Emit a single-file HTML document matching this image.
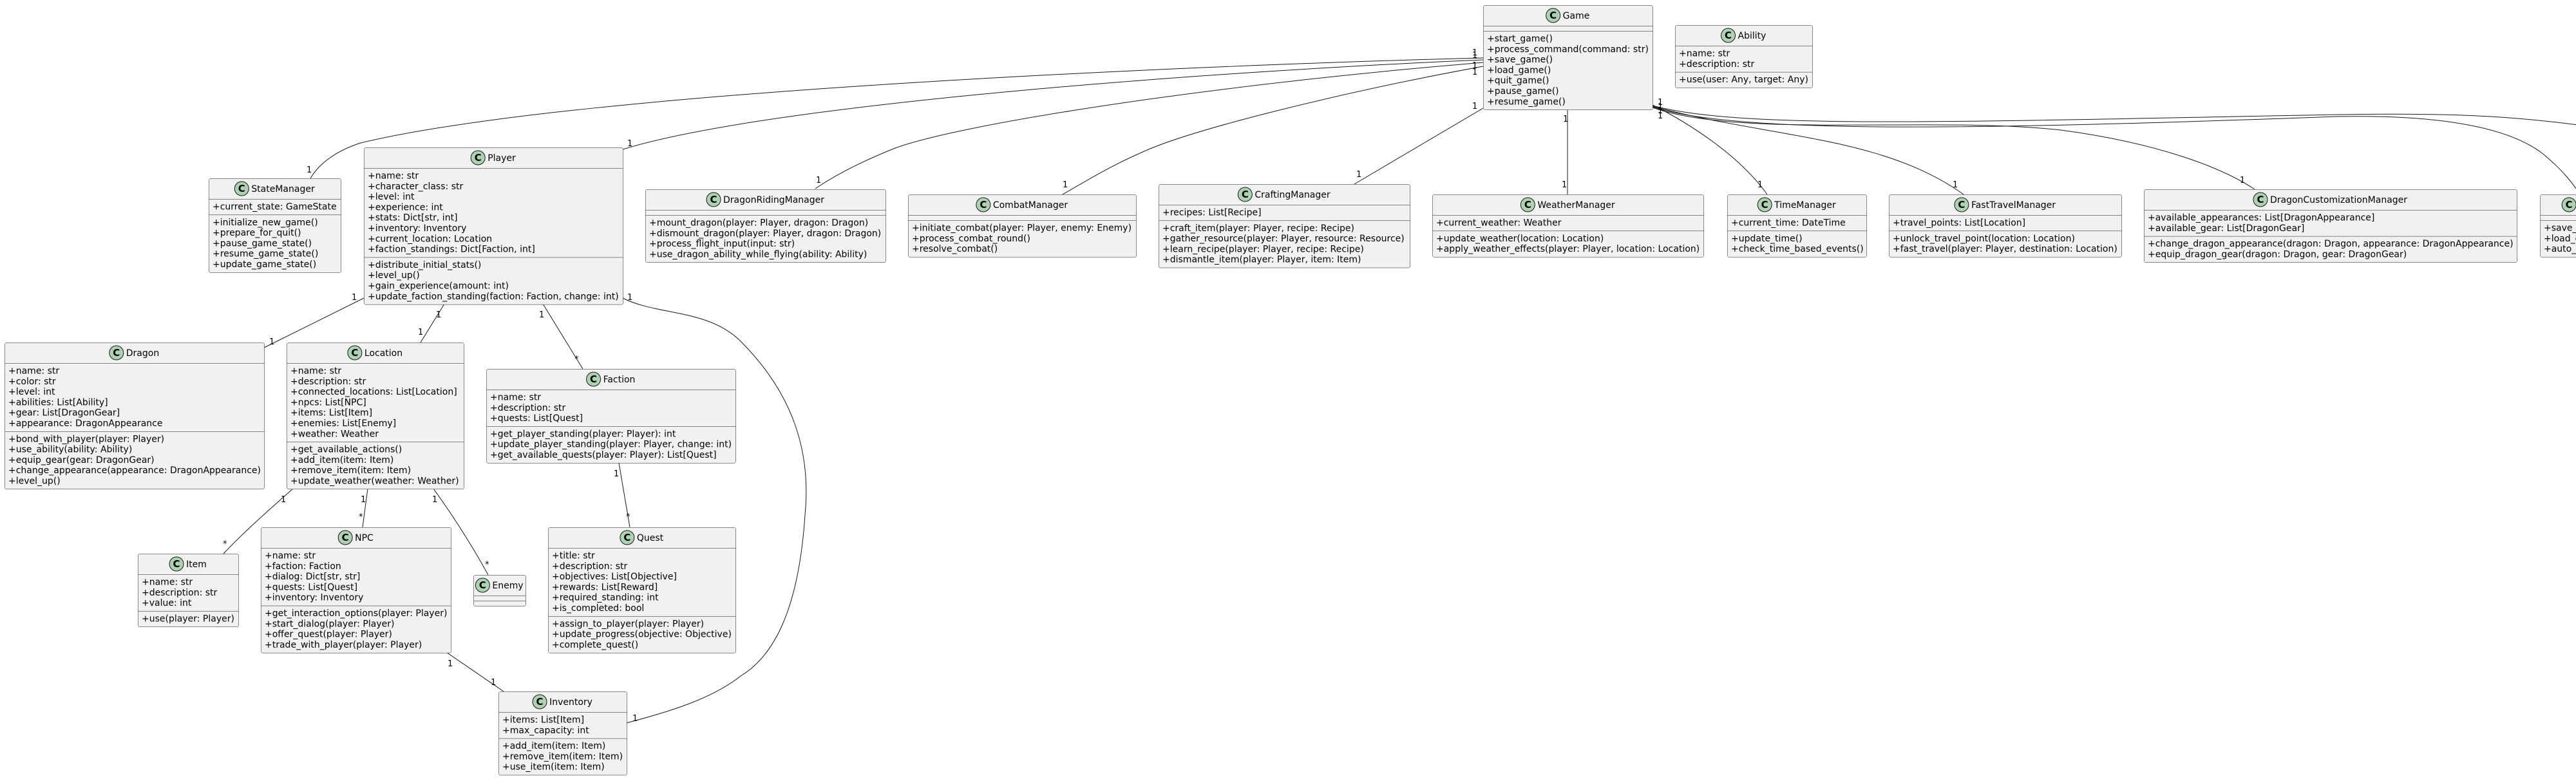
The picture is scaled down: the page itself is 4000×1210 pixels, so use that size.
<!DOCTYPE html>
<html><head><meta charset="utf-8">
<style>
html,body{margin:0;padding:0;background:#fff;}
svg{display:block;}
text{font-family:"DejaVu Sans","Liberation Sans",sans-serif;fill:#000;}
</style></head>
<body>
<svg id="s" xmlns="http://www.w3.org/2000/svg" width="4000" height="1210" viewBox="0 0 4000 1210">
<g fill="none" stroke="#181818" stroke-width="1">
<path d="M2303,90 C1900,100 900,140 560,222 C520,235 495,255 482,277"/>
<path d="M2303,93 C1900,110 1200,160 967,232"/>
<path d="M2303,97 C1900,130 1500,190 1390,230 C1340,250 1300,270 1266,293"/>
<path d="M2303,103 C2100,140 1850,200 1770,238 C1720,260 1680,285 1650,302"/>
<path d="M2303,168 L2103,286"/>
<path d="M2434,168 L2434,302"/>
<path d="M2566,163 C2620,190 2700,240 2744,302"/>
<path d="M2566,165 C2750,215 2920,210 3049,302"/>
<path d="M2566,167 C2700,215 3000,180 3200,202 C3350,222 3450,260 3501,294"/>
<path d="M2566,164 C2700,200 3000,190 3630,178 C3800,175 3900,180 4010,195"/>
<path d="M2566,166 C2700,210 3100,200 3630,181 C3800,178 3900,200 3950,240 C3980,265 3995,285 4005,300"/>
<path d="M565,463 L410,540"/>
<path d="M690,472 L653,532"/>
<path d="M843,472 L905,573"/>
<path d="M967,463 C1020,490 1100,480 1150,530 C1230,610 1260,700 1250,800 C1240,950 1200,1020 1150,1050 C1100,1090 1020,1110 973,1123"/>
<path d="M455,759 C420,790 380,825 347,860"/>
<path d="M571,759 L563,819"/>
<path d="M673,759 C710,810 740,860 758,893"/>
<path d="M961,719 L978,819"/>
<path d="M693,1013 L782,1074"/>
</g>
<g id="boxes"></g>
<g font-size="13" id="labels">
<text x="476" y="268">1</text>
<text x="974" y="227">1</text>
<text x="546" y="466">1</text>
<text x="418" y="535">1</text>
<text x="677" y="493">1</text>
<text x="649" y="520">1</text>
<text x="837" y="493">1</text>
<text x="892" y="562">*</text>
<text x="974" y="466">1</text>
<text x="982" y="1120">1</text>
<text x="436" y="780">1</text>
<text x="346" y="849">*</text>
<text x="560" y="780">1</text>
<text x="557" y="807">*</text>
<text x="671" y="780">1</text>
<text x="753" y="881">*</text>
<text x="953" y="740">1</text>
<text x="972" y="807">*</text>
<text x="695" y="1035">1</text>
<text x="762" y="1064">1</text>
<text x="1267" y="284">1</text>
<text x="1650" y="291">1</text>
<text x="2106" y="275">1</text>
<text x="2286" y="86">1</text>
<text x="2286" y="90">1</text>
<text x="2286" y="106">1</text>
<text x="2286" y="116">1</text>
<text x="2286" y="169">1</text>
<text x="2427" y="189">1</text>
<text x="2425" y="291">1</text>
<text x="2729" y="291">1</text>
<text x="3032" y="291">1</text>
<text x="3478" y="284">1</text>
<text x="2574" y="163">1</text>
<text x="2574" y="170">1</text>
<text x="2574" y="176">1</text>
<text x="2574" y="184">1</text>
</g>
</svg>
<script>
(function(){
var NS='http://www.w3.org/2000/svg';
var g=document.getElementById('boxes');
function el(t,a,p,txt){var e=document.createElementNS(NS,t);for(var k in a)e.setAttribute(k,a[k]);if(txt!==undefined)e.textContent=txt;(p||g).appendChild(e);return e;}
var C=[
['StateManager',324,277,205,['+current_state: GameState'],['+initialize_new_game()','+prepare_for_quit()','+pause_game_state()','+resume_game_state()','+update_game_state()']],
['Player',565,229,402,['+name: str','+character_class: str','+level: int','+experience: int','+stats: Dict[str, int]','+inventory: Inventory','+current_location: Location','+faction_standings: Dict[Faction, int]'],['+distribute_initial_stats()','+level_up()','+gain_experience(amount: int)','+update_faction_standing(faction: Faction, change: int)']],
['Dragon',7,532,403,['+name: str','+color: str','+level: int','+abilities: List[Ability]','+gear: List[DragonGear]','+appearance: DragonAppearance'],['+bond_with_player(player: Player)','+use_ability(ability: Ability)','+equip_gear(gear: DragonGear)','+change_appearance(appearance: DragonAppearance)','+level_up()']],
['Location',445,532,275,['+name: str','+description: str','+connected_locations: List[Location]','+npcs: List[NPC]','+items: List[Item]','+enemies: List[Enemy]','+weather: Weather'],['+get_available_actions()','+add_item(item: Item)','+remove_item(item: Item)','+update_weather(weather: Weather)']],
['Faction',755,573,387,['+name: str','+description: str','+quests: List[Quest]'],['+get_player_standing(player: Player): int','+update_player_standing(player: Player, change: int)','+get_available_quests(player: Player): List[Quest]']],
['Item',214,860,156,['+name: str','+description: str','+value: int'],['+use(player: Player)']],
['NPC',405,819,295,['+name: str','+faction: Faction','+dialog: Dict[str, str]','+quests: List[Quest]','+inventory: Inventory'],['+get_interaction_options(player: Player)','+start_dialog(player: Player)','+offer_quest(player: Player)','+trade_with_player(player: Player)']],
['Enemy',735,893,81,[],[]],
['Quest',851,819,291,['+title: str','+description: str','+objectives: List[Objective]','+rewards: List[Reward]','+required_standing: int','+is_completed: bool'],['+assign_to_player(player: Player)','+update_progress(objective: Objective)','+complete_quest()']],
['Inventory',774,1074,199,['+items: List[Item]','+max_capacity: int'],['+add_item(item: Item)','+remove_item(item: Item)','+use_item(item: Item)']],
['DragonRidingManager',1002,294,373,[],['+mount_dragon(player: Player, dragon: Dragon)','+dismount_dragon(player: Player, dragon: Dragon)','+process_flight_input(input: str)','+use_dragon_ability_while_flying(ability: Ability)']],
['CombatManager',1410,302,354,[],['+initiate_combat(player: Player, enemy: Enemy)','+process_combat_round()','+resolve_combat()']],
['CraftingManager',1799,286,390,['+recipes: List[Recipe]'],['+craft_item(player: Player, recipe: Recipe)','+gather_resource(player: Player, resource: Resource)','+learn_recipe(player: Player, recipe: Recipe)','+dismantle_item(player: Player, item: Item)']],
['WeatherManager',2224,302,421,['+current_weather: Weather'],['+update_weather(location: Location)','+apply_weather_effects(player: Player, location: Location)']],
['Game',2303,8,263,[],['+start_game()','+process_command(command: str)','+save_game()','+load_game()','+quit_game()','+pause_game()','+resume_game()']],
['Ability',2601,39,213,['+name: str','+description: str'],['+use(user: Any, target: Any)']],
['TimeManager',2682,302,216,['+current_time: DateTime'],['+update_time()','+check_time_based_events()']],
['FastTravelManager',2933,302,361,['+travel_points: List[Location]'],['+unlock_travel_point(location: Location)','+fast_travel(player: Player, destination: Location)']],
['DragonCustomizationManager',3329,294,579,['+available_appearances: List[DragonAppearance]','+available_gear: List[DragonGear]'],['+change_dragon_appearance(dragon: Dragon, appearance: DragonAppearance)','+equip_dragon_gear(dragon: Dragon, gear: DragonGear)']],
['SaveManager',3944,302,190,[],['+save_game_state()','+load_game_state()','+auto_save()']]
];
var LH=16.3;
C.forEach(function(c){
 var x=c[1],y=c[2],w=c[3],A=c[4],M=c[5];
 var h=32+8+A.length*LH+8+M.length*LH;
 el('rect',{x:x+0.5,y:y+0.5,width:w,height:h,rx:2.5,fill:'#F1F1F1',stroke:'#181818','stroke-width':0.5});
 el('line',{x1:x+0.5,y1:y+32.5,x2:x+w+0.5,y2:y+32.5,stroke:'#181818','stroke-width':0.5});
 var sep=y+32+8+A.length*LH;
 el('line',{x1:x+0.5,y1:sep+0.5,x2:x+w+0.5,y2:sep+0.5,stroke:'#181818','stroke-width':0.5});
 var t=el('text',{x:0,y:y+21,'font-size':14},undefined,c[0]);
 var W=t.getComputedTextLength();
 var st=x+w/2-(26+W)/2;
 t.setAttribute('x',st+26);
 el('circle',{cx:st+11,cy:y+16,r:11,fill:'#ADD1B2',stroke:'#181818','stroke-width':1});
 el('text',{x:st+11,y:y+21,'font-size':15,'font-weight':'bold','text-anchor':'middle'},undefined,'C');
 A.forEach(function(s,i){el('text',{x:x+6,y:y+32+16.5+i*LH,'font-size':14},undefined,s);});
 M.forEach(function(s,i){el('text',{x:x+6,y:sep+16.5+i*LH,'font-size':14},undefined,s);});
});
})();
</script>
</body></html>
